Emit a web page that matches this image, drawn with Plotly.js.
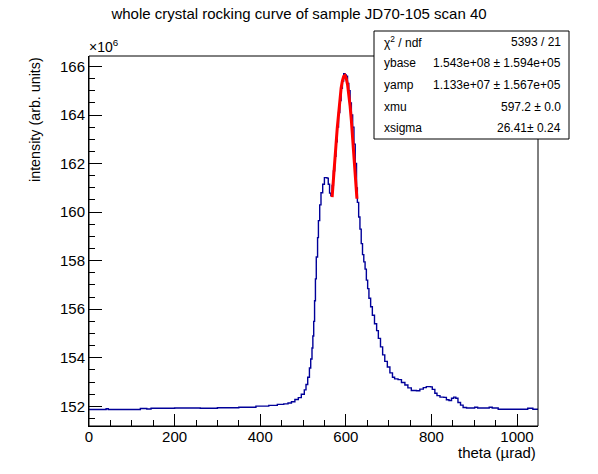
<!DOCTYPE html>
<html>
<head>
<meta charset="utf-8">
<script src="https://cdn.plot.ly/plotly-3.0.1.min.js"></script>
<style>
  html, body { margin: 0; padding: 0; background: #fff; }
  #chart { width: 598px; height: 474px; }
</style>
</head>
<body>
<div id="chart"></div>
<script>
// ---- data (theta in µrad, intensity in units of 1e6) ----
const thetaBins = [0, 40, 45, 120, 135, 145, 200, 260, 300, 350, 390, 420, 440, 455, 465, 473, 481, 489, 496, 503,
  507, 511, 515, 518, 521, 523, 525, 527, 529, 531, 534, 536, 539, 542, 546, 550, 556, 559, 562, 565,
  568, 571, 574, 577, 580, 583, 586, 589, 592, 595, 598, 601, 604, 607, 610, 613, 616, 619, 622, 625,
  627, 630, 633, 636, 639, 642, 645, 648, 651, 654, 658, 662, 667, 672, 676, 681, 686, 691, 697, 703,
  709, 714, 722, 730, 738, 745, 753, 765, 773, 781, 788, 798, 802, 808, 813, 820, 829, 835, 841, 847,
  852, 857, 862, 868, 874, 882, 894, 901, 908, 930, 935, 942, 956, 1020, 1025, 1037, 1050];
const intensity = [151.87, 151.90, 151.87, 151.91, 151.89, 151.92, 151.93, 151.92, 151.94, 151.96, 152.01, 152.04, 152.08, 152.10, 152.14, 152.19, 152.28, 152.36, 152.50, 152.68,
  152.90, 153.20, 153.58, 153.95, 154.40, 154.90, 155.50, 156.35, 157.25, 158.15, 158.95, 159.65, 160.30, 160.80, 161.15, 161.42, 161.40, 161.15, 160.78, 160.68,
  161.10, 161.70, 162.30, 162.90, 163.50, 164.10, 164.60, 165.10, 165.40, 165.70, 165.65, 165.60, 165.30, 165.00, 164.50, 164.00, 163.50, 162.80, 162.00, 161.00,
  160.40, 159.80, 159.30, 158.70, 158.25, 157.95, 157.65, 157.20, 156.85, 156.45, 156.10, 155.75, 155.40, 155.12, 154.80, 154.45, 154.12, 153.85, 153.62, 153.38,
  153.20, 153.13, 153.10, 152.98, 152.88, 152.76, 152.65, 152.64, 152.71, 152.77, 152.81, 152.80, 152.70, 152.54, 152.44, 152.38, 152.37, 152.27, 152.24, 152.33,
  152.38, 152.33, 152.16, 152.05, 151.95, 151.93, 151.93, 151.96, 151.93, 151.93, 151.96, 151.93, 151.88, 151.88, 151.92, 151.88, 151.88];

const fitTheta = [568, 571, 574, 577, 580, 583, 586, 589, 592, 595, 598, 601, 604, 607, 610, 613, 616, 619, 622, 625, 626];
const fitValue = [160.62, 161.23, 162.00, 162.76, 163.47, 164.10, 164.66, 165.10, 165.41, 165.59, 165.63, 165.51, 165.26, 164.88, 164.37, 163.77, 163.10, 162.36, 161.59, 160.81, 160.55];

const xTickVals = [0, 200, 400, 600, 800, 1000];
const yTickVals = [152, 154, 156, 158, 160, 162, 164, 166];

const statLabels = ["χ<sup>2</sup> / ndf", "ybase", "yamp", "xmu", "xsigma"];
const statValues = ["5393 / 21", "1.543e+08 ± 1.594e+05", "1.133e+07 ± 1.567e+05", "597.2 ± 0.0", "26.41± 0.24"];

// ---- layout geometry (pixels) ----
const W = 598, H = 474;
const L = 89, R = 538, T = 56, B = 426;
const px2x = p => (p - L) / (R - L);
const py2y = p => (B - p) / (B - T);

const FONT = "Liberation Sans, Arial, Helvetica, sans-serif";

const traces = [
  {
    x: thetaBins, y: intensity, type: "scatter", mode: "lines",
    line: { shape: "hv", color: "#000099", width: 1.4 },
    hoverinfo: "skip"
  },
  {
    x: fitTheta, y: fitValue, type: "scatter", mode: "lines",
    line: { color: "#ff0000", width: 3 },
    hoverinfo: "skip"
  }
];

const annotations = [];
// stats box rows
const boxL = 374, boxR = 569, boxT = 31, boxB = 139;
const rowH = (boxB - boxT) / statLabels.length;
statLabels.forEach((lab, i) => {
  const cy = boxT + rowH * (i + 0.5);
  annotations.push({
    xref: "paper", yref: "paper", x: px2x(boxL + 8), y: py2y(cy),
    xanchor: "left", yanchor: "middle", showarrow: false,
    text: lab, font: { family: FONT, size: 12, color: "#000" }
  });
  annotations.push({
    xref: "paper", yref: "paper", x: px2x(boxR - 6), y: py2y(cy),
    xanchor: "right", yanchor: "middle", showarrow: false,
    text: statValues[i], font: { family: FONT, size: 12, color: "#000" }
  });
});
// exponent label
annotations.push({
  xref: "paper", yref: "paper", x: px2x(87), y: py2y(57),
  xanchor: "left", yanchor: "bottom", showarrow: false,
  text: "×10<sup>6</sup>", font: { family: FONT, size: 14, color: "#000" }
});
// axis titles
annotations.push({
  xref: "paper", yref: "paper", x: 1, y: py2y(453),
  xanchor: "right", yanchor: "middle", showarrow: false,
  text: "theta (µrad)", font: { family: FONT, size: 15, color: "#000" }
});
annotations.push({
  xref: "paper", yref: "paper", x: px2x(35), y: py2y(120),
  xanchor: "center", yanchor: "middle", showarrow: false, textangle: -90,
  text: "intensity (arb. units)", font: { family: FONT, size: 14.3, color: "#000" }
});

const shapes = [
  { type: "rect", xref: "paper", yref: "paper", x0: 0, x1: 1, y0: 0, y1: 1,
    line: { color: "#000", width: 1 }, fillcolor: "rgba(0,0,0,0)", layer: "above" },
  { type: "rect", xref: "paper", yref: "paper", x0: px2x(boxL), x1: px2x(boxR), y0: py2y(boxB), y1: py2y(boxT),
    line: { color: "#000", width: 1 }, fillcolor: "#fff", layer: "above" }
];

const layout = {
  width: W, height: H,
  margin: { l: L, r: W - R, t: T, b: H - B, pad: 0 },
  paper_bgcolor: "#fff", plot_bgcolor: "#fff",
  showlegend: false,
  font: { family: FONT, size: 15, color: "#000" },
  title: {
    text: "whole crystal rocking curve of sample JD70-105 scan 40",
    font: { family: FONT, size: 15, color: "#000" },
    xref: "container", yref: "container", x: 0.5, y: 1 - 14 / H,
    xanchor: "center", yanchor: "middle"
  },
  xaxis: {
    range: [0, 1049], tickvals: xTickVals, ticktext: xTickVals.map(String),
    ticks: "inside", ticklen: 12, tickwidth: 1, tickcolor: "#000",
    minor: { dtick: 50, tick0: 0, ticks: "inside", ticklen: 6, tickwidth: 1, tickcolor: "#000", showgrid: false },
    showgrid: false, zeroline: false, showline: true, linecolor: "#000", linewidth: 1, mirror: false,
    ticklabelstandoff: -3,
    tickfont: { family: FONT, size: 15, color: "#000" }
  },
  yaxis: {
    range: [151.19, 166.43], tickvals: yTickVals, ticktext: yTickVals.map(String),
    ticks: "inside", ticklen: 13, tickwidth: 1, tickcolor: "#000",
    minor: { dtick: 0.5, tick0: 0, ticks: "inside", ticklen: 6, tickwidth: 1, tickcolor: "#000", showgrid: false },
    showgrid: false, zeroline: false, showline: true, linecolor: "#000", linewidth: 1, mirror: false,
    tickfont: { family: FONT, size: 15, color: "#000" }
  },
  annotations: annotations,
  shapes: shapes
};

Plotly.newPlot("chart", traces, layout, { staticPlot: true, displayModeBar: false });
</script>
</body>
</html>
